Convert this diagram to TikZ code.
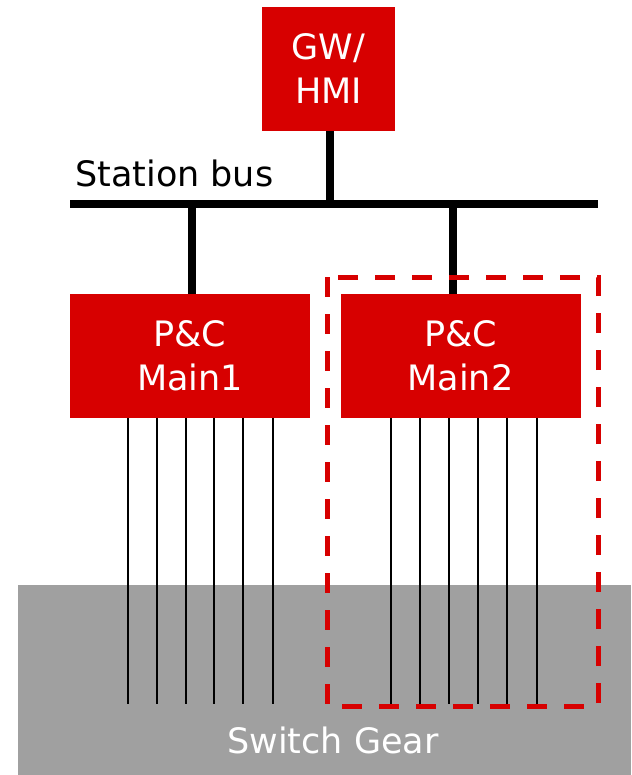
\documentclass[tikz,border=0pt]{standalone}
\usepackage{fontspec}
\setmainfont{DejaVu Sans}
\definecolor{abbred}{RGB}{215,0,0}
\definecolor{geargray}{RGB}{160,160,160}
\tikzset{
  label font/.style={font=\fontsize{35}{44}\selectfont},
  unitbox/.style={fill=abbred, draw=none, text=white, align=center,
    minimum height=124pt, label font, inner sep=0pt},
  busline/.style={line width=7.5pt, black},
  wire/.style={line width=2pt, black},
  zone/.style={draw=abbred, line width=5pt, dash pattern=on 20pt off 17pt},
}
\begin{document}
\begin{tikzpicture}[x=1pt,y=-1pt]
  \useasboundingbox (0,0) rectangle (631,775);

  % switch gear area
  \fill[geargray] (18,585) rectangle (631,775);
  \node[text=white, label font] (sg) at (333,740) {Switch Gear};

  % devices
  \node[unitbox, minimum width=133pt] (gw) at (328.5,69) {GW/\\HMI};
  \node[unitbox, minimum width=240pt] (m1) at (190,356) {P\&C\\Main1};
  \node[unitbox, minimum width=240pt] (m2) at (460.5,356) {P\&C\\Main2};

  % station bus
  \coordinate (busL) at (70,204);
  \coordinate (busR) at (598,204);
  \draw[busline] (busL) -- (busR);
  \node[anchor=base west, label font, inner sep=0pt] (sb) at (75,187) {Station bus};

  \coordinate (gwtap) at (330,204);
  \coordinate (m1tap) at (192,204);
  \coordinate (m2tap) at (453,204);
  \draw[busline] (gwtap) -- (gwtap |- gw.south);
  \draw[busline] (m1tap) -- (m1tap |- m1.north);
  \draw[busline] (m2tap) -- (m2tap |- m2.north);

  % wiring into the switch gear
  \foreach \x [count=\i] in {128,157,186,214,243,273} {
    \coordinate (a\i) at (\x,704);
    \draw[wire] (a\i |- m1.south) -- (a\i);
  }
  \foreach \x [count=\i] in {391,420,449,478,507,537} {
    \coordinate (b\i) at (\x,704);
    \draw[wire] (b\i |- m2.south) -- (b\i);
  }

  % highlighted zone around Main2
  \draw[zone] (327,277) rectangle (598,706);
\end{tikzpicture}
\end{document}
